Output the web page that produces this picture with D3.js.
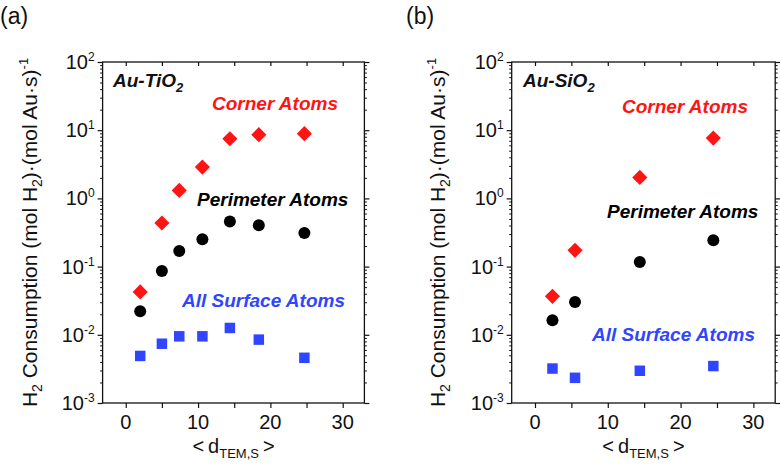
<!DOCTYPE html>
<html><head><meta charset="utf-8">
<script src="https://cdn.jsdelivr.net/npm/d3@7"></script>
<style>
html,body{margin:0;padding:0;background:#fff;}
svg{display:block;font-family:"Liberation Sans",Arial,sans-serif;}
</style></head>
<body><svg id="c" width="780" height="466"></svg>
<script>
// ---------- data ----------
const panelLabels = ["(a)", "(b)"];
const supportNames = ["Au-TiO", "Au-SiO"];
const seriesNames = ["Corner Atoms", "Perimeter Atoms", "All Surface Atoms"];
const xTickValues = [0, 10, 20, 30];
const xMinorValues = [5, 15, 25];
const yExponents = [-3, -2, -1, 0, 1, 2];

const tiO2Size = [2.0, 5.0, 7.4, 10.6, 14.4, 18.4, 24.7];
const tiO2Corner = [0.0425, 0.436, 1.31, 2.88, 7.5, 8.6, 8.9];
const tiO2Perimeter = [0.0221, 0.086, 0.169, 0.251, 0.46, 0.403, 0.311];
const tiO2All = [0.0049, 0.0074, 0.0095, 0.0095, 0.0126, 0.0085, 0.0046];

const siO2Size = [2.4, 5.5, 14.4, 24.5];
const siO2Corner = [0.0366, 0.173, 2.03, 7.67];
const siO2Perimeter = [0.0163, 0.0303, 0.117, 0.243];
const siO2All = [0.0032, 0.00234, 0.00297, 0.00348];

// ---------- layout ----------
const RED = "#ff1414", BLUE = "#2f45ff", BLACK = "#000";
const svg = d3.select("#c");
const plotTop = 62, plotBottom = 403;

const panels = [
  {label: panelLabels[0], name: supportNames[0], x: tiO2Size,
   corner: tiO2Corner, perim: tiO2Perimeter, all: tiO2All,
   range: [102.6, 364.4], labelPos: [0, 24], ytitleX: 37,
   ann: [[113, 87], [212, 110], [197, 206], [182, 307]]},
  {label: panelLabels[1], name: supportNames[1], x: siO2Size,
   corner: siO2Corner, perim: siO2Perimeter, all: siO2All,
   range: [511.7, 775.2], labelPos: [406, 24], ytitleX: 445,
   ann: [[523, 87], [622, 113], [607, 218], [592, 341]]}
];

const y = d3.scaleLog().domain([1e-3, 1e2]).range([plotBottom, plotTop]);
const minorY = [];
for (let e = -3; e < 2; e++) for (let m = 2; m <= 9; m++) minorY.push(m * Math.pow(10, e));

panels.forEach(p => {
  const x = d3.scaleLinear().domain([-3.2, 33]).range(p.range);
  const g = svg.append("g");
  const L = p.range[0], R = p.range[1];

  // frame
  g.append("rect").attr("x", L).attr("y", plotTop).attr("width", R - L).attr("height", plotBottom - plotTop)
    .attr("fill", "none").attr("stroke", "#111").attr("stroke-width", 1.3);

  // left axis (outward ticks)
  const yl = g.append("g").attr("transform", `translate(${L},0)`)
    .call(d3.axisLeft(y).tickValues(yExponents.map(e => Math.pow(10, e))).tickSize(5).tickFormat(""));
  yl.select(".domain").remove();
  yl.selectAll("line").attr("stroke", "#111").attr("stroke-width", 1.2);
  const ylm = g.append("g").attr("transform", `translate(${L},0)`)
    .call(d3.axisLeft(y).tickValues(minorY).tickSize(2.5).tickFormat(""));
  ylm.select(".domain").remove();
  ylm.selectAll("line").attr("stroke", "#111").attr("stroke-width", 1);

  // right axis (outward ticks)
  const yr = g.append("g").attr("transform", `translate(${R},0)`)
    .call(d3.axisRight(y).tickValues(yExponents.map(e => Math.pow(10, e))).tickSize(5).tickFormat(""));
  yr.select(".domain").remove();
  yr.selectAll("line").attr("stroke", "#111").attr("stroke-width", 1.2);
  const yrm = g.append("g").attr("transform", `translate(${R},0)`)
    .call(d3.axisRight(y).tickValues(minorY).tickSize(2.5).tickFormat(""));
  yrm.select(".domain").remove();
  yrm.selectAll("line").attr("stroke", "#111").attr("stroke-width", 1);

  // y tick labels 10^n
  yExponents.forEach(e => {
    const t = g.append("text").attr("x", L - 8).attr("y", y(Math.pow(10, e)) + 7)
      .attr("text-anchor", "end").attr("font-size", 20).attr("fill", "#111");
    t.append("tspan").text("10");
    t.append("tspan").attr("dy", -8).attr("font-size", 12).text(String(e));
  });

  // bottom axis
  const xb = g.append("g").attr("transform", `translate(0,${plotBottom})`)
    .call(d3.axisBottom(x).tickValues(xTickValues.concat(xMinorValues)).tickSize(5).tickFormat(""));
  xb.select(".domain").remove();
  xb.selectAll("line").attr("stroke", "#111").attr("stroke-width", 1.2);
  xTickValues.forEach(v => {
    g.append("text").attr("x", x(v)).attr("y", plotBottom + 26).attr("text-anchor", "middle")
      .attr("font-size", 20).attr("fill", "#111").text(v);
  });
  // top axis (inward ticks)
  const xt = g.append("g").attr("transform", `translate(0,${plotTop})`)
    .call(d3.axisTop(x).tickValues(xTickValues.concat(xMinorValues)).tickSize(-4).tickFormat(""));
  xt.select(".domain").remove();
  xt.selectAll("line").attr("stroke", "#111").attr("stroke-width", 1.2);

  // x title
  const xtT = g.append("text").attr("x", (L + R) / 2).attr("y", plotBottom + 50)
    .attr("text-anchor", "middle").attr("font-size", 20).attr("fill", "#111");
  xtT.append("tspan").text("<\u2009d");
  xtT.append("tspan").attr("dy", 5).attr("font-size", 13).text("TEM,S");
  xtT.append("tspan").attr("dy", -5).text("\u2009>");

  // y title
  const cy = (plotTop + plotBottom) / 2;
  const yt = g.append("text").attr("transform", `translate(${p.ytitleX},${cy}) rotate(-90)`)
    .attr("text-anchor", "middle").attr("font-size", 21).attr("fill", "#111");
  yt.append("tspan").text("H");
  yt.append("tspan").attr("dy", 5).attr("font-size", 14).text("2");
  yt.append("tspan").attr("dy", -5).text(" Consumption (mol H");
  yt.append("tspan").attr("dy", 5).attr("font-size", 14).text("2");
  yt.append("tspan").attr("dy", -5).text(")\u00b7(mol Au\u00b7s)");
  yt.append("tspan").attr("dy", -9).attr("font-size", 13).text("-1");

  // panel label
  g.append("text").attr("x", p.labelPos[0]).attr("y", p.labelPos[1]).attr("font-size", 23)
    .attr("fill", "#111").text(p.label);

  // annotations
  const a0 = g.append("text").attr("x", p.ann[0][0]).attr("y", p.ann[0][1])
    .attr("font-size", 19).attr("font-weight", "bold").attr("font-style", "italic").attr("fill", "#111");
  a0.append("tspan").text(p.name);
  a0.append("tspan").attr("dy", 5).attr("font-size", 13).text("2");
  const colors = [RED, BLACK, BLUE];
  seriesNames.forEach((s, i) => {
    g.append("text").attr("x", p.ann[i + 1][0]).attr("y", p.ann[i + 1][1])
      .attr("font-size", 19).attr("font-weight", "bold").attr("font-style", "italic")
      .attr("fill", colors[i]).text(s);
  });

  // markers
  const diamond = d3.symbol().type(d3.symbolSquare).size(115);
  g.selectAll(".corner").data(p.x.map((v, i) => [v, p.corner[i]])).join("path")
    .attr("d", diamond).attr("fill", RED)
    .attr("transform", d => `translate(${x(d[0])},${y(d[1])}) rotate(45)`);
  g.selectAll(".perim").data(p.x.map((v, i) => [v, p.perim[i]])).join("circle")
    .attr("cx", d => x(d[0])).attr("cy", d => y(d[1])).attr("r", 6).attr("fill", BLACK);
  const sq = d3.symbol().type(d3.symbolSquare).size(110);
  g.selectAll(".all").data(p.x.map((v, i) => [v, p.all[i]])).join("path")
    .attr("d", sq).attr("fill", BLUE)
    .attr("transform", d => `translate(${x(d[0])},${y(d[1])})`);
});
</script></body></html>
